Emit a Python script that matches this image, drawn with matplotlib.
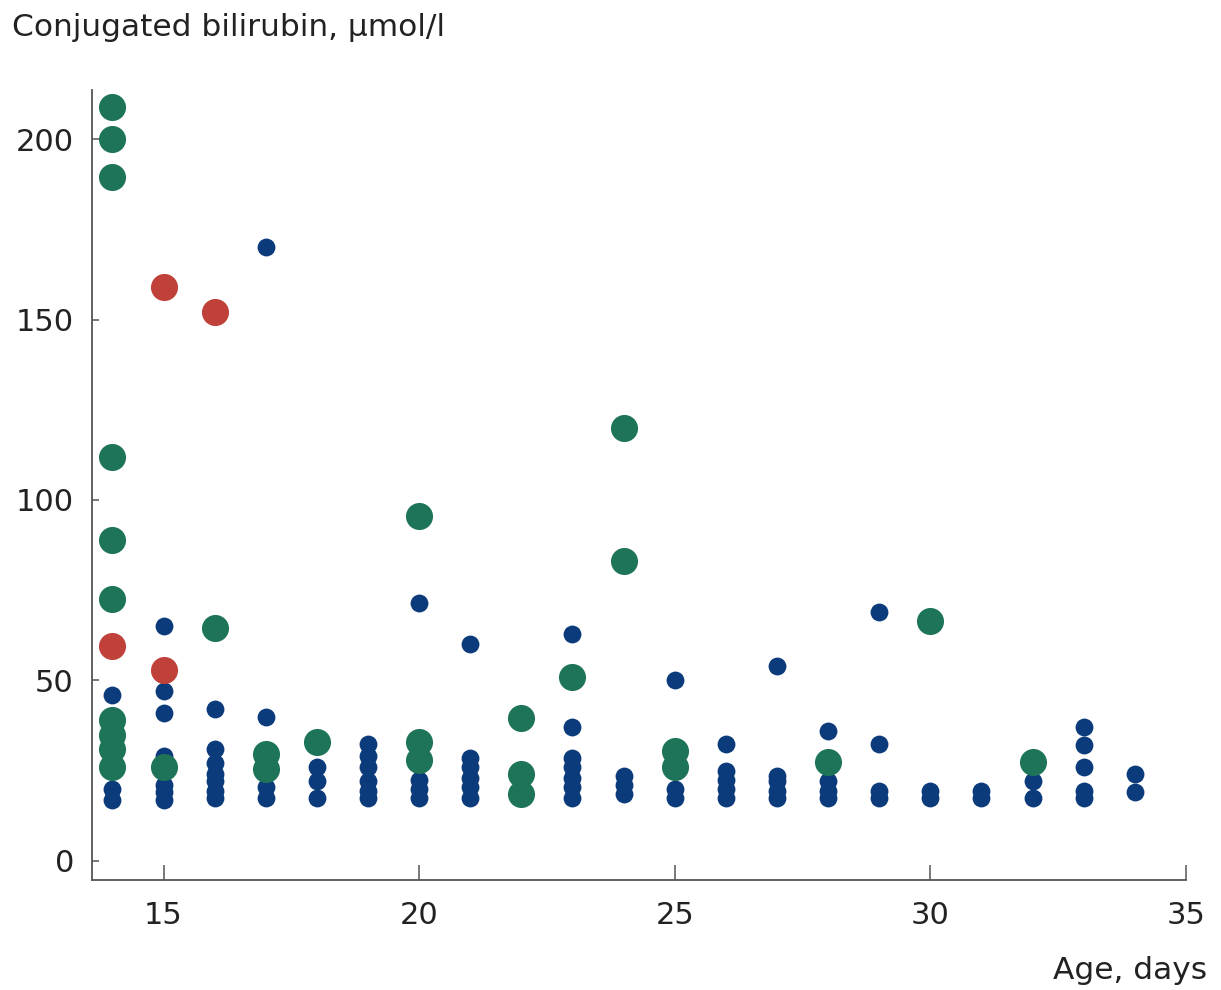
import matplotlib
matplotlib.use("Agg")
import matplotlib.pyplot as plt

plt.rcParams['font.family'] = ['DejaVu Sans']

# blue: small dots
blue_age = [14, 14, 14,
            15, 15, 15, 15, 15, 15, 15,
            16, 16, 16, 16, 16, 16, 16,
            17, 17, 17, 17,
            18, 18, 18,
            19, 19, 19, 19, 19, 19,
            20, 20, 20, 20,
            21, 21, 21, 21, 21, 21,
            23, 23, 23, 23, 23, 23, 23,
            24, 24, 24,
            25, 25, 25,
            26, 26, 26, 26, 26,
            27, 27, 27, 27, 27,
            28, 28, 28, 28,
            29, 29, 29, 29,
            30, 30,
            31, 31,
            32, 32,
            33, 33, 33, 33, 33,
            34, 34]
blue_val = [46, 20, 17,
            65, 47, 41, 29, 21, 19, 17,
            42, 31, 27, 24, 22, 19.5, 17.5,
            170, 40, 20.5, 17.5,
            26, 22, 17.5,
            32.5, 29, 26, 22, 19.5, 17.5,
            71.5, 22.5, 20, 17.5,
            60, 28.5, 26, 23, 20.5, 17.5,
            63, 37, 28.5, 26, 23, 20.5, 17.5,
            23.5, 21, 18.5,
            50, 20, 17.5,
            32.5, 25, 22.5, 20, 17.5,
            54, 23.5, 22, 19.5, 17.5,
            36, 22, 19.5, 17.5,
            69, 32.5, 19.5, 17.5,
            19.5, 17.5,
            19.5, 17.5,
            22, 17.5,
            37, 32, 26, 19.5, 17.5,
            24, 19]

# green: large dots
green_age = [14, 14, 14, 14, 14, 14, 14, 14, 14, 14,
             15, 16, 17, 17, 18, 20, 20, 20,
             22, 22, 22, 23, 24, 24, 25, 25, 28, 30, 32]
green_val = [209, 200, 189.5, 112, 89, 72.5, 39, 35, 31, 26,
             26, 64.5, 29.5, 25.5, 33, 95.5, 33, 28,
             39.5, 24, 18.5, 51, 120, 83, 30.5, 26, 27.5, 66.5, 27.5]

# red: large dots
red_age = [14, 15, 15, 16]
red_val = [59.5, 159, 53, 152]

fig = plt.figure(figsize=(12.21, 9.9), dpi=100)
ax = fig.add_axes([0.0753, 0.1111, 0.896, 0.798])

ax.scatter(blue_age, blue_val, s=165, color='#0c3b7c', linewidths=0, zorder=2)
ax.scatter(green_age, green_val, s=380, color='#1e7458', linewidths=0, zorder=3)
ax.scatter(red_age, red_val, s=380, color='#c0403a', linewidths=0, zorder=4)

ax.set_xlim(13.6, 35)
ax.set_ylim(-5.3, 213.6)
ax.set_xticks([15, 20, 25, 30, 35])
ax.set_yticks([0, 50, 100, 150, 200])

for s in ['top', 'right']:
    ax.spines[s].set_visible(False)
for s in ['left', 'bottom']:
    ax.spines[s].set_color('#555555')
    ax.spines[s].set_linewidth(1.3)

ax.tick_params(axis='x', direction='in', length=11, width=1.1, color='#555555',
               pad=15, labelsize=22, labelcolor='#222222')
ax.tick_params(axis='y', direction='in', length=5, width=1.1, color='#555555',
               pad=13, labelsize=22, labelcolor='#222222')

fig.text(0.01, 0.972, 'Conjugated bilirubin, µmol/l', fontsize=22.5, color='#222222',
         ha='left', va='center')
fig.text(0.989, 0.02, 'Age, days', fontsize=22.5, color='#222222',
         ha='right', va='center')

fig.savefig('out.png', dpi=100)
